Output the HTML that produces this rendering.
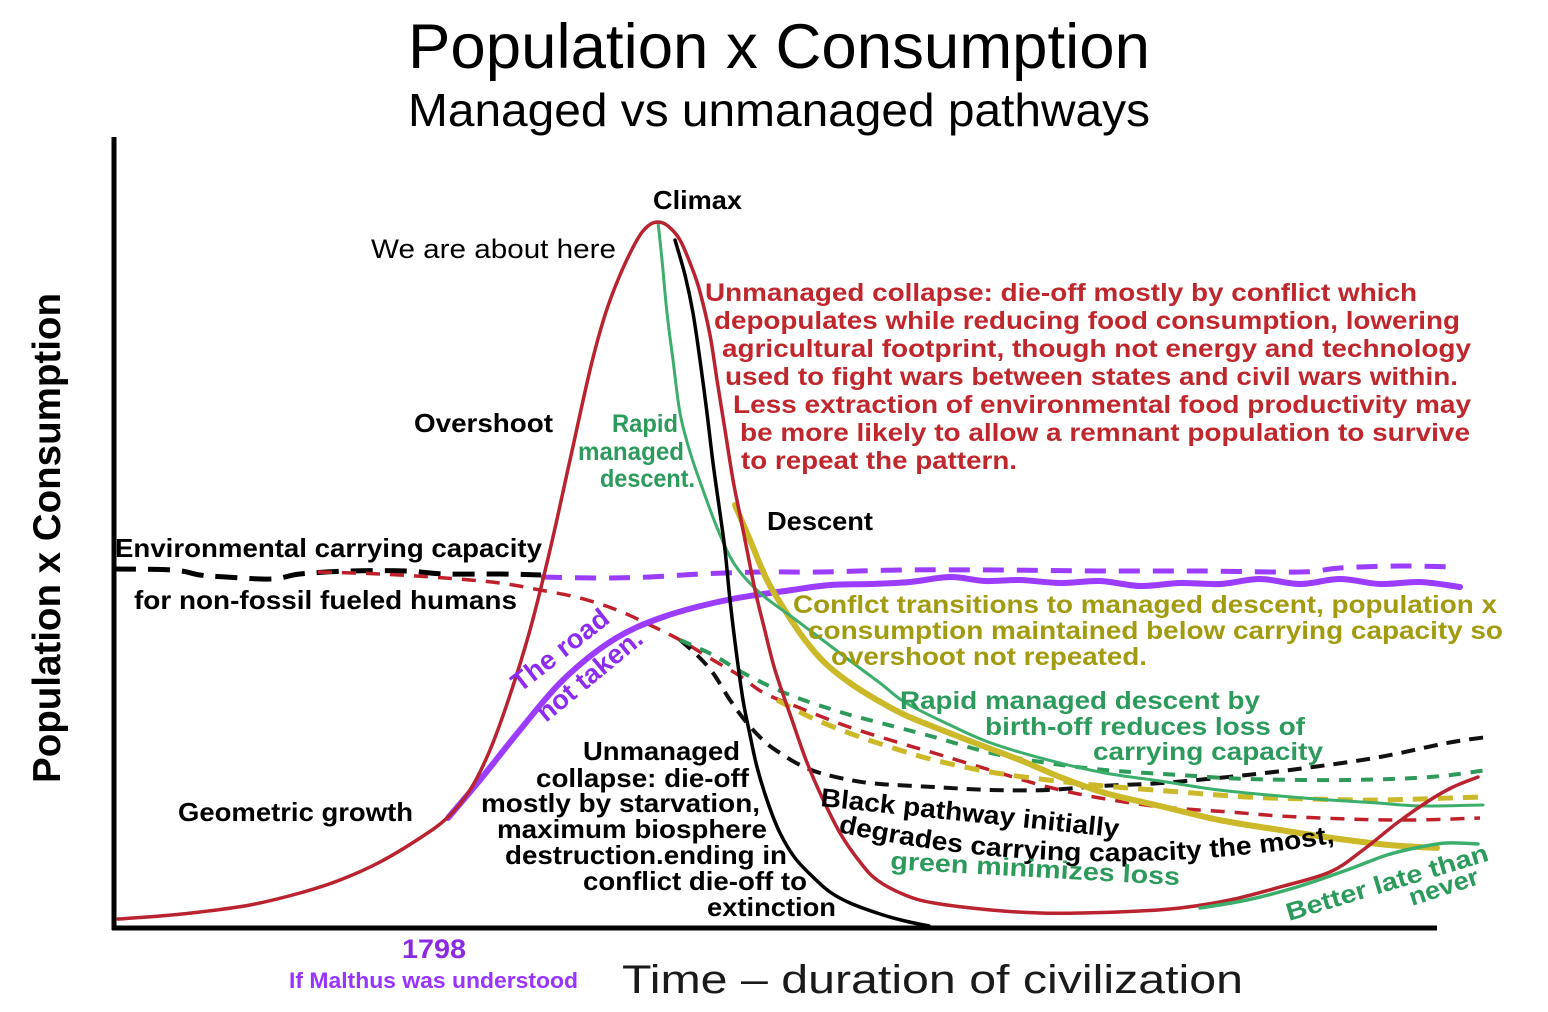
<!DOCTYPE html>
<html><head><meta charset="utf-8"><style>
html,body{margin:0;padding:0;background:#fff;}
svg{display:block;}
text{font-family:"Liberation Sans",Arial,sans-serif;}
.b{font-weight:bold;font-size:26px;fill:#000;}
.r{font-weight:bold;font-size:25px;fill:#c0272d;}
.g{font-weight:bold;font-size:25px;fill:#2c9a5b;}
.o{font-weight:bold;font-size:25px;fill:#a29b10;}
.p{font-weight:bold;font-size:27px;fill:#8c2cf0;}
</style></head><body>
<svg id="chart" width="1548" height="1012" viewBox="0 0 1548 1012" xmlns="http://www.w3.org/2000/svg">
<rect width="1548" height="1012" fill="#fff"/>

<!-- Titles -->
<text x="408" y="68" font-size="63" textLength="742" lengthAdjust="spacingAndGlyphs">Population x Consumption</text>
<text x="408" y="126" font-size="46" textLength="742" lengthAdjust="spacingAndGlyphs">Managed vs unmanaged pathways</text>

<!-- Axes -->
<line x1="114" y1="137" x2="114" y2="930" stroke="#000" stroke-width="5"/>
<line x1="112" y1="928" x2="1437" y2="928" stroke="#000" stroke-width="5"/>

<!-- Dashed lines -->
<polyline class="s" fill="none" stroke="#000" stroke-width="5" stroke-dasharray="22 12" points="114,569 173,570 200,575 226,577 272,579 300,574 350,571 406,571 445,574 500,574 541,575"/>
<polyline class="s" fill="none" stroke="#9b3cff" stroke-width="5" stroke-dasharray="21 13" points="541,577 600,578 650,577 700,574 760,572 820,572 900,570 1000,570 1100,571 1200,571 1300,572 1340,568 1400,566 1458,567"/>
<polyline class="s" fill="none" stroke="#c0202a" stroke-width="3.5" stroke-dasharray="14 10" points="318,572 380,574 445,578 500,583 540,590 580,598 617,610 650,625 680,640 713,660 740,676 764,693 800,708 849,727 900,743 934,753 990,770 1048,787 1100,798 1162,807 1230,812 1280,816 1347,819 1413,820 1480,818"/>
<polyline class="s" fill="none" stroke="#111" stroke-width="4" stroke-dasharray="14 9" points="680,640 697,655 713,673 730,700 747,723 765,742 780,753 800,765 820,773 850,780 880,784 934,787 990,790 1048,790 1100,786 1162,783 1247,775 1313,767 1380,757 1447,743 1487,737"/>
<polyline class="s" fill="none" stroke="#2e9a5a" stroke-width="4" stroke-dasharray="12 10" points="680,640 713,655 747,675 790,695 840,712 877,722 934,737 991,753 1048,763 1105,770 1180,775 1247,779 1347,780 1430,777 1487,770"/>
<polyline class="s" fill="none" stroke="#cbb92a" stroke-width="5" stroke-dasharray="15 10" points="777,700 810,717 849,733 890,747 934,760 990,772 1048,780 1105,786 1180,792 1247,797 1313,799 1380,800 1480,797"/>

<!-- Solid curves -->
<polyline class="s" fill="none" stroke="#9b3cff" stroke-width="6" stroke-linecap="round" stroke-linejoin="round" points="448,818 480,780 520,730 563,680 613,640 663,617 727,600 792,590 830,585 870,584 910,582 950,577 985,581 1020,580 1060,583 1100,581 1140,586 1180,583 1220,584 1260,579 1300,584 1340,579 1380,584 1420,582 1460,587"/>
<polyline class="s" fill="none" stroke="#cbb92a" stroke-width="6" stroke-linecap="round" stroke-linejoin="round" points="735,505 750,540 767,580 786,612 805,640 825,663 850,683 877,700 905,715 934,727 975,743 1020,760 1060,777 1105,793 1160,806 1219,820 1280,830 1332,838 1389,845 1437,848"/>
<polyline class="s" fill="none" stroke="#3cae6c" stroke-width="3" stroke-linecap="round" stroke-linejoin="round" points="658,222 662,260 667,313 673,360 680,413 690,452 703,490 718,530 735,565 760,593 792,617 820,638 849,660 880,683 906,703 950,725 991,743 1048,760 1105,773 1160,781 1219,790 1280,796 1330,800 1378,803 1420,806 1483,805"/>
<polyline class="s" fill="none" stroke="#b8232f" stroke-width="3.5" stroke-linecap="round" stroke-linejoin="round" points="118,919 160,916 200,912 250,905 300,893 340,880 380,862 420,838 447,818 470,790 490,750 510,695 530,630 550,550 570,460 590,370 605,315 620,275 637,240 648,226 658,222 668,226 680,240 692,268 700,292 710,335 717,380 725,430 733,480 740,515 747,550 755,590 764,627 775,670 792,720 806,760 820,793 840,833 860,862 877,880 905,895 934,903 991,910 1040,913 1082,913 1140,911 1180,908 1230,900 1280,887 1330,872 1363,850 1397,823 1430,800 1453,787 1478,777"/>
<polyline class="s" fill="none" stroke="#3cae6c" stroke-width="3.5" stroke-linecap="round" stroke-linejoin="round" points="1200,908 1247,900 1297,887 1347,870 1387,855 1420,847 1447,843 1478,844"/>
<polyline class="s" fill="none" stroke="#000" stroke-width="3.5" stroke-linecap="round" stroke-linejoin="round" points="675,240 685,275 693,313 700,360 707,413 713,463 720,513 725,550 730,600 736,650 743,700 750,735 757,767 768,803 780,833 795,858 813,877 830,892 850,903 880,914 905,921 929,926"/>

<!-- Black labels -->
<text class="b" x="653" y="209" textLength="89" lengthAdjust="spacingAndGlyphs">Climax</text>
<text x="371" y="258" font-size="27" textLength="245" lengthAdjust="spacingAndGlyphs">We are about here</text>
<text class="b" x="414" y="432" textLength="139" lengthAdjust="spacingAndGlyphs">Overshoot</text>
<text class="b" x="767" y="530" textLength="106" lengthAdjust="spacingAndGlyphs">Descent</text>
<text class="b" x="115" y="557" textLength="427" lengthAdjust="spacingAndGlyphs">Environmental carrying capacity</text>
<text class="b" x="134" y="609" textLength="383" lengthAdjust="spacingAndGlyphs">for non-fossil fueled humans</text>
<text class="b" x="178" y="821" textLength="235" lengthAdjust="spacingAndGlyphs">Geometric growth</text>

<text class="b" x="583" y="760" textLength="157" lengthAdjust="spacingAndGlyphs">Unmanaged</text>
<text class="b" x="536" y="787" textLength="213" lengthAdjust="spacingAndGlyphs">collapse: die-off</text>
<text class="b" x="481" y="812" textLength="279" lengthAdjust="spacingAndGlyphs">mostly by starvation,</text>
<text class="b" x="497" y="838" textLength="270" lengthAdjust="spacingAndGlyphs">maximum biosphere</text>
<text class="b" x="505" y="864" textLength="282" lengthAdjust="spacingAndGlyphs">destruction.ending in</text>
<text class="b" x="583" y="890" textLength="224" lengthAdjust="spacingAndGlyphs">conflict die-off to</text>
<text class="b" x="707" y="916" textLength="129" lengthAdjust="spacingAndGlyphs">extinction</text>

<!-- Red block -->
<text class="r" x="705" y="301" textLength="712" lengthAdjust="spacingAndGlyphs">Unmanaged collapse: die-off mostly by conflict which</text>
<text class="r" x="714" y="329" textLength="746" lengthAdjust="spacingAndGlyphs">depopulates while reducing food consumption, lowering</text>
<text class="r" x="722" y="357" textLength="749" lengthAdjust="spacingAndGlyphs">agricultural footprint, though not energy and technology</text>
<text class="r" x="725" y="385" textLength="733" lengthAdjust="spacingAndGlyphs">used to fight wars between states and civil wars within.</text>
<text class="r" x="733" y="413" textLength="738" lengthAdjust="spacingAndGlyphs">Less extraction of environmental food productivity may</text>
<text class="r" x="740" y="441" textLength="730" lengthAdjust="spacingAndGlyphs">be more likely to allow a remnant population to survive</text>
<text class="r" x="741" y="469" textLength="276" lengthAdjust="spacingAndGlyphs">to repeat the pattern.</text>

<!-- Green Rapid -->
<text class="g" x="612" y="432" textLength="66" lengthAdjust="spacingAndGlyphs">Rapid</text>
<text class="g" x="578" y="460" textLength="106" lengthAdjust="spacingAndGlyphs">managed</text>
<text class="g" x="600" y="487" textLength="95" lengthAdjust="spacingAndGlyphs">descent.</text>

<!-- Olive block -->
<text class="o" x="793" y="613" textLength="704" lengthAdjust="spacingAndGlyphs">Conflct transitions to managed descent, population x</text>
<text class="o" x="808" y="639" textLength="695" lengthAdjust="spacingAndGlyphs">consumption maintained below carrying capacity so</text>
<text class="o" x="831" y="665" textLength="316" lengthAdjust="spacingAndGlyphs">overshoot not repeated.</text>

<!-- Green block -->
<text class="g" x="900" y="709" textLength="360" lengthAdjust="spacingAndGlyphs">Rapid managed descent by</text>
<text class="g" x="985" y="735" textLength="320" lengthAdjust="spacingAndGlyphs">birth-off reduces loss of</text>
<text class="g" x="1093" y="760" textLength="230" lengthAdjust="spacingAndGlyphs">carrying capacity</text>

<!-- Rotated labels -->
<text class="b" transform="translate(820,806) rotate(6)" textLength="300" lengthAdjust="spacingAndGlyphs">Black pathway initially</text>
<path id="degp" d="M838,832 Q1080,885 1340,842" fill="none"/>
<text class="b"><textPath href="#degp" textLength="500" lengthAdjust="spacingAndGlyphs">degrades carrying capacity the most,</textPath></text>
<text class="g" transform="translate(890,869) rotate(3.2)" textLength="290" lengthAdjust="spacingAndGlyphs">green minimizes loss</text>
<text class="g" transform="translate(1289,921) rotate(-16.8)" textLength="210" lengthAdjust="spacingAndGlyphs">Better late than</text>
<text class="g" transform="translate(1412,906) rotate(-18)" textLength="72" lengthAdjust="spacingAndGlyphs">never</text>
<text class="p" transform="translate(520,693) rotate(-38)" textLength="116" lengthAdjust="spacingAndGlyphs">The road</text>
<text class="p" transform="translate(546,723) rotate(-39.5)" textLength="128" lengthAdjust="spacingAndGlyphs">not taken.</text>

<!-- Axis labels -->
<text x="402" y="958" font-size="27" font-weight="bold" fill="#8a2be2" textLength="64" lengthAdjust="spacingAndGlyphs">1798</text>
<text x="289" y="988" font-size="22" font-weight="bold" fill="#9933ff" textLength="289" lengthAdjust="spacingAndGlyphs">If Malthus was understood</text>
<text x="622" y="993" font-size="40" fill="#1a1a1a" textLength="621" lengthAdjust="spacingAndGlyphs">Time – duration of civilization</text>
<text transform="translate(60,538) rotate(-90)" text-anchor="middle" font-size="39" font-weight="bold" textLength="490" lengthAdjust="spacingAndGlyphs">Population x Consumption</text>
</svg>
<script>
(function(){
  var NS='http://www.w3.org/2000/svg';
  var pls=document.querySelectorAll('polyline.s');
  for(var k=0;k<pls.length;k++){
    var pl=pls[k];
    var raw=pl.getAttribute('points').trim().split(/\s+/);
    var pts=raw.map(function(p){var a=p.split(',');return [parseFloat(a[0]),parseFloat(a[1])];});
    var d='M'+pts[0][0]+','+pts[0][1];
    for(var i=0;i<pts.length-1;i++){
      var p0=pts[i-1]||pts[i],p1=pts[i],p2=pts[i+1],p3=pts[i+2]||pts[i+1];
      var c1x=p1[0]+(p2[0]-p0[0])/6,c1y=p1[1]+(p2[1]-p0[1])/6;
      var c2x=p2[0]-(p3[0]-p1[0])/6,c2y=p2[1]-(p3[1]-p1[1])/6;
      d+=' C'+c1x.toFixed(2)+','+c1y.toFixed(2)+' '+c2x.toFixed(2)+','+c2y.toFixed(2)+' '+p2[0]+','+p2[1];
    }
    var path=document.createElementNS(NS,'path');
    for(var j=0;j<pl.attributes.length;j++){
      var at=pl.attributes[j];
      if(at.name!=='points'&&at.name!=='class')path.setAttribute(at.name,at.value);
    }
    path.setAttribute('d',d);
    pl.parentNode.replaceChild(path,pl);
  }
})();
</script>
</body></html>
